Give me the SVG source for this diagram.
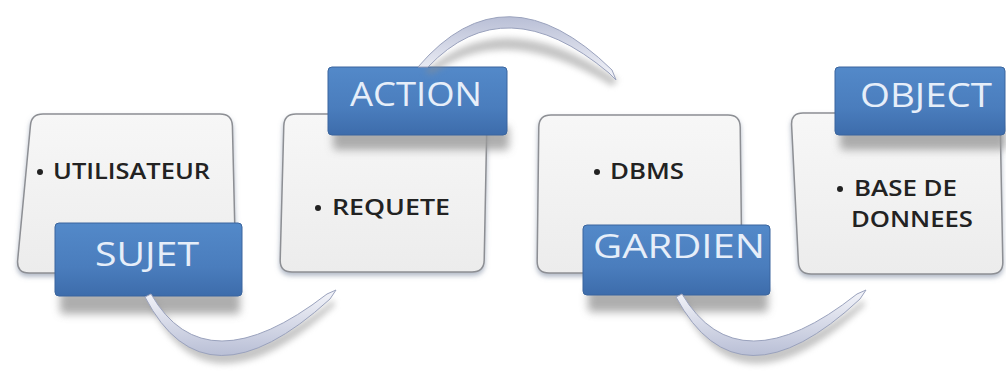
<svg xmlns="http://www.w3.org/2000/svg" width="1006" height="374" viewBox="0 0 1006 374">
<defs>
  <linearGradient id="boxG" x1="0" y1="0" x2="0" y2="1">
    <stop offset="0" stop-color="#f7f7f7"/>
    <stop offset="1" stop-color="#ececec"/>
  </linearGradient>
  <linearGradient id="tabG" x1="0" y1="0" x2="0" y2="1">
    <stop offset="0" stop-color="#5389c9"/>
    <stop offset="0.6" stop-color="#4a7dbd"/>
    <stop offset="1" stop-color="#3d6cab"/>
  </linearGradient>
  <linearGradient id="arcG" x1="0" y1="0" x2="0" y2="1">
    <stop offset="0" stop-color="#f4f5fa"/>
    <stop offset="1" stop-color="#b9bfd6"/>
  </linearGradient>
  <linearGradient id="arcGup" x1="0" y1="1" x2="0" y2="0">
    <stop offset="0" stop-color="#f4f5fa"/>
    <stop offset="1" stop-color="#b9bfd6"/>
  </linearGradient>
  <filter id="boxSh" x="-10%" y="-10%" width="120%" height="130%">
    <feDropShadow dx="0" dy="3" stdDeviation="2.5" flood-color="#6f7f99" flood-opacity="0.55"/>
  </filter>
  <filter id="blur" x="-20%" y="-50%" width="140%" height="200%">
    <feGaussianBlur stdDeviation="4"/>
  </filter>
  <filter id="arcSh" x="-20%" y="-50%" width="140%" height="200%">
    <feGaussianBlur stdDeviation="3"/>
  </filter>
  <style>
    .box { fill: url(#boxG); stroke: #8d8f94; stroke-width: 1.5; filter: url(#boxSh); }
    .tab { fill: url(#tabG); stroke: #3a659e; stroke-width: 1; }
    .tabsh { fill: #9a9a9a; opacity: 0.8; filter: url(#blur); }
    .tabtxt { font-family: "Open Sans", "Liberation Sans", sans-serif; font-size: 32px; fill: #e6eef9; text-anchor: middle; }
    .txt { font-family: "Open Sans", "Liberation Sans", sans-serif; font-size: 21px; font-weight: 600; fill: #222; }
    .arc { fill: url(#arcG); stroke: #9aa2bd; stroke-width: 1; }
    .arcup { fill: url(#arcGup); stroke: #9aa2bd; stroke-width: 1; }
    .arcsh { fill: #8c8c8c; opacity: 0.5; filter: url(#arcSh); }
  </style>
</defs>
<rect width="1006" height="374" fill="#ffffff"/>

<g id="node-utilisateur">
  <path class="box" d="M43,114 L220,114 Q232,114 232.4,126 L235.6,261 Q236,273 224,273 L29,273 Q17,273 17.6,261 L30.4,126 Q31,114 43,114 Z"/>
  <circle cx="40" cy="172" r="3" fill="#222"/>
  <text class="txt" x="53" y="179" textLength="157" lengthAdjust="spacingAndGlyphs">UTILISATEUR</text>
</g>
<g id="node-requete">
  <path class="box" d="M296,114 L475,114 Q487,114 486.8,126 L484.2,260 Q484,272 472,272 L292,272 Q280,272 280.2,260 L283.8,126 Q284,114 296,114 Z"/>
  <circle cx="318" cy="208" r="3" fill="#222"/>
  <text class="txt" x="332" y="215" textLength="118" lengthAdjust="spacingAndGlyphs">REQUETE</text>
</g>
<g id="node-dbms">
  <path class="box" d="M551,115 L728,115 Q740,115 740.2,127 L741.8,261 Q742,273 730,273 L549,273 Q537,273 537.2,261 L538.8,127 Q539,115 551,115 Z"/>
  <circle cx="597" cy="172" r="3" fill="#222"/>
  <text class="txt" x="610" y="179" textLength="74" lengthAdjust="spacingAndGlyphs">DBMS</text>
</g>
<g id="node-base">
  <path class="box" d="M803,113 L988,113 Q1000,113 1000.2,125 L1002.8,262 Q1003,274 991,274 L811,274 Q799,274 798.4,262 L791.6,125 Q791,113 803,113 Z"/>
  <circle cx="840" cy="189" r="3" fill="#222"/>
  <text class="txt" x="854" y="196" textLength="103" lengthAdjust="spacingAndGlyphs">BASE DE</text>
  <text class="txt" x="851" y="227" textLength="122" lengthAdjust="spacingAndGlyphs">DONNEES</text>
</g>

<g id="tab-sujet">
  <rect class="tabsh" x="60" y="290" width="180" height="24" rx="4"/>
  <rect class="tab" x="55" y="223" width="187" height="73" rx="4"/>
  <text class="tabtxt" x="147" y="266" textLength="104" lengthAdjust="spacingAndGlyphs">SUJET</text>
</g>
<g id="tab-action">
  <rect class="tabsh" x="333" y="126" width="176" height="24" rx="4"/>
  <rect class="tab" x="328" y="67" width="179" height="68" rx="4"/>
  <text class="tabtxt" x="416" y="106" textLength="132" lengthAdjust="spacingAndGlyphs">ACTION</text>
</g>
<g id="tab-gardien">
  <rect class="tabsh" x="588" y="288" width="180" height="24" rx="4"/>
  <rect class="tab" x="583" y="225" width="187" height="70" rx="4"/>
  <text class="tabtxt" x="679" y="258" textLength="172" lengthAdjust="spacingAndGlyphs">GARDIEN</text>
</g>
<g id="tab-object">
  <rect class="tabsh" x="840" y="126" width="166" height="24" rx="4"/>
  <rect class="tab" x="835" y="67" width="170" height="68" rx="4"/>
  <text class="tabtxt" x="926" y="107" textLength="132" lengthAdjust="spacingAndGlyphs">OBJECT</text>
</g>

<g id="connectors">
  <path class="arcsh" d="M148,300 Q205,425 335,305 L333,300 Q205,400 154,298 Z"/>
  <path class="arc" d="M145,297 Q205,413 330,299 L336,290 L327,294 Q205,388 151,294 Z"/>
  <path class="arcsh" d="M424,72 Q505,0 618,80 L612,86 Q505,20 432,74 Z"/>
  <path class="arcup" d="M418,67 Q505,-35 612,70 L616,80 L609,73 Q505,-14 428,67 Z"/>
  <path class="arcsh" d="M679,300 Q738,425 865,305 L863,300 Q738,400 685,298 Z"/>
  <path class="arc" d="M676,297 Q738,413 860,299 L866,290 L857,294 Q738,388 682,294 Z"/>
</g>
</svg>
